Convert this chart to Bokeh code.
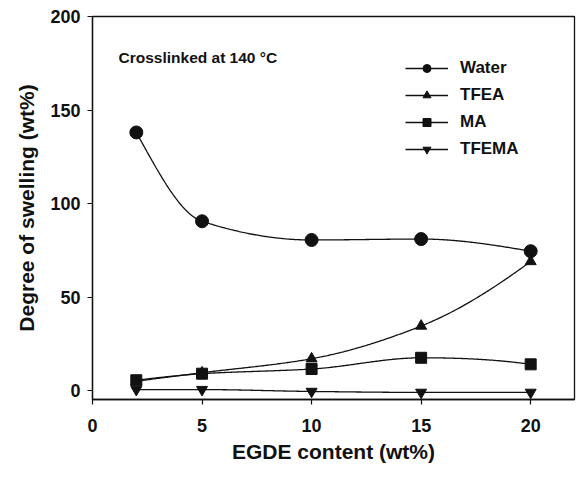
import numpy as np
from bokeh.plotting import figure
from bokeh.models import Range1d, FixedTicker, Legend, LegendItem, Label
from bokeh.embed import file_html
from bokeh.resources import INLINE

# ---- data ----
egde = [2, 5, 10, 15, 20]
water = [138, 90.5, 80.5, 81, 74.5]
tfea = [5, 9.5, 17, 34.5, 69]
ma = [5.5, 9, 11.5, 17.5, 14]
tfema = [0.5, 0.5, -0.5, -1, -1]
x_ticks = [0, 5, 10, 15, 20]
y_ticks = [0, 50, 100, 150, 200]

FONT = "Liberation Sans"
INK = "#111111"


def pchip(x, y, n=300):
    """Shape-preserving smooth curve through the data points (drawing only)."""
    x = np.asarray(x, float)
    y = np.asarray(y, float)
    h = np.diff(x)
    d = np.diff(y) / h
    k = len(x)
    m = np.zeros(k)
    for i in range(1, k - 1):
        if d[i - 1] * d[i] <= 0:
            m[i] = 0.0
        else:
            w1 = 2 * h[i] + h[i - 1]
            w2 = h[i] + 2 * h[i - 1]
            m[i] = (w1 + w2) / (w1 / d[i - 1] + w2 / d[i])

    def end(h0, h1, d0, d1):
        v = ((2 * h0 + h1) * d0 - h0 * d1) / (h0 + h1)
        if np.sign(v) != np.sign(d0):
            v = 0.0
        elif np.sign(d0) != np.sign(d1) and abs(v) > abs(3 * d0):
            v = 3 * d0
        return v

    m[0] = end(h[0], h[1], d[0], d[1])
    m[-1] = end(h[-1], h[-2], d[-1], d[-2])
    xs = np.linspace(x[0], x[-1], n)
    ys = np.empty_like(xs)
    for j, t in enumerate(xs):
        i = int(np.clip(np.searchsorted(x, t, side="right") - 1, 0, k - 2))
        s = (t - x[i]) / h[i]
        h00 = 2 * s ** 3 - 3 * s ** 2 + 1
        h10 = s ** 3 - 2 * s ** 2 + s
        h01 = -2 * s ** 3 + 3 * s ** 2
        h11 = s ** 3 - s ** 2
        ys[j] = h00 * y[i] + h10 * h[i] * m[i] + h01 * y[i + 1] + h11 * h[i] * m[i + 1]
    return xs, ys


p = figure(width=582, height=482, output_backend="svg", toolbar_location=None,
           x_range=Range1d(0, 22), y_range=Range1d(-4.8, 200))
p.min_border_left = 92
p.min_border_right = 8
p.min_border_top = 16
p.min_border_bottom = 83
p.background_fill_color = "white"
p.border_fill_color = "white"
p.outline_line_color = INK
p.outline_line_width = 1.3
p.xgrid.visible = False
p.ygrid.visible = False

for ax in (p.xaxis[0], p.yaxis[0]):
    ax.axis_line_color = INK
    ax.axis_line_width = 1.3
    ax.major_tick_line_color = INK
    ax.major_tick_line_width = 1.2
    ax.major_tick_in = 0
    ax.major_tick_out = 5
    ax.minor_tick_line_color = None
    ax.major_label_text_font = FONT
    ax.major_label_text_font_style = "bold"
    ax.major_label_text_font_size = "18px"
    ax.major_label_text_color = INK
    ax.axis_label_text_font = FONT
    ax.axis_label_text_font_style = "bold"
    ax.axis_label_text_font_size = "21px"
    ax.axis_label_text_color = INK

p.xaxis.ticker = FixedTicker(ticks=x_ticks)
p.yaxis.ticker = FixedTicker(ticks=y_ticks)
p.xaxis.major_label_standoff = 14
p.yaxis.major_label_standoff = 7
p.xaxis.axis_label = "EGDE content (wt%)"
p.yaxis.axis_label = "Degree of swelling (wt%)"
p.xaxis.axis_label_standoff = 5
p.yaxis.axis_label_standoff = 9

series = [
    ("Water", water, "circle", 13),
    ("TFEA", tfea, "triangle", 11),
    ("MA", ma, "square", 11),
    ("TFEMA", tfema, "inverted_triangle", 11),
]

items = []
for name, vals, marker, size in series:
    xs, ys = pchip(egde, vals)
    ln = p.line(xs, ys, line_color=INK, line_width=1.3)
    sc = p.scatter(egde, vals, marker=marker, size=size,
                   fill_color=INK, line_color=INK)
    items.append(LegendItem(label=name, renderers=[ln, sc]))

legend = Legend(items=items, location=(313, 240), orientation="vertical")
legend.border_line_color = None
legend.background_fill_alpha = 0
legend.padding = 0
legend.margin = 0
legend.spacing = 7
legend.glyph_width = 43
legend.glyph_height = 20
legend.label_height = 20
legend.label_standoff = 12
legend.label_text_font = FONT
legend.label_text_font_style = "bold"
legend.label_text_font_size = "17px"
legend.label_text_color = INK
p.add_layout(legend)

note = Label(x=26, y=342, x_units="screen", y_units="screen",
             text="Crosslinked at 140 °C", text_font=FONT,
             text_font_style="bold", text_font_size="15.5px",
             text_color=INK, text_baseline="middle")
p.add_layout(note)

open("out.html", "w").write(file_html(p, INLINE))
